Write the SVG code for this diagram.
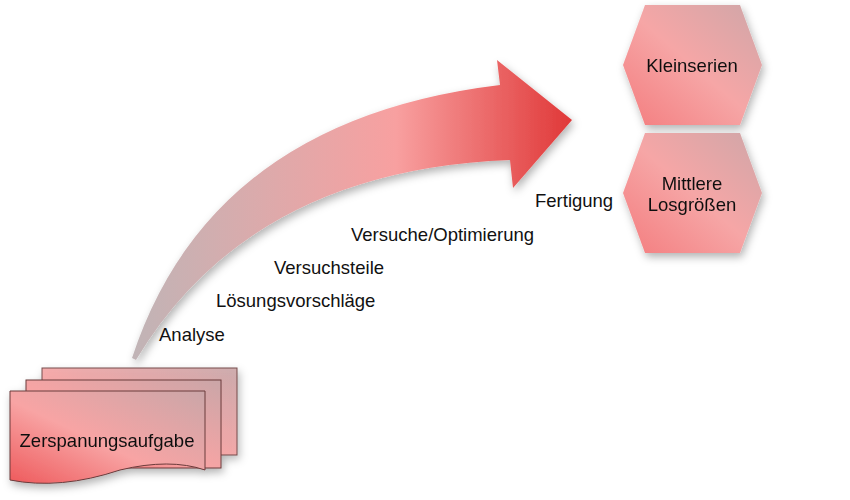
<svg xmlns="http://www.w3.org/2000/svg" width="850" height="500" viewBox="0 0 850 500">
<style>
text{font-family:"Liberation Sans",Arial,sans-serif;font-size:18.5px;fill:#111}
.doc{stroke:#6a3a3a;stroke-width:1}
</style>
<defs>
<linearGradient id="g" x1="0" y1="1" x2="1" y2="0">
<stop offset="0" stop-color="#ee5a5c"/><stop offset="0.45" stop-color="#f8a4a4"/><stop offset="1" stop-color="#caa6a8"/>
</linearGradient>
<linearGradient id="hg" x1="0" y1="1" x2="1" y2="0">
<stop offset="0" stop-color="#f47c7e"/><stop offset="0.5" stop-color="#f6a6a6"/><stop offset="1" stop-color="#cfa6a8"/>
</linearGradient>
<linearGradient id="ag" x1="0" y1="0" x2="1" y2="0">
<stop offset="0" stop-color="#c0b4b6"/><stop offset="0.6" stop-color="#f8a0a0"/><stop offset="1" stop-color="#e03838"/>
</linearGradient>
<filter id="sh" x="-20%" y="-20%" width="140%" height="140%"><feDropShadow dx="2" dy="4" stdDeviation="4" flood-color="#000" flood-opacity="0.3"/></filter>
</defs>
<g id="connectors">
<path d="M132,358 Q210,120 500,85 L497,60 L572,120 L513,188 L510,160 Q250,170 136,360 Z" fill="url(#ag)" filter="url(#sh)"/>
</g>
<g id="doc" filter="url(#sh)">
<rect class="doc" x="42" y="368" width="195" height="87" fill="url(#g)" opacity="0.9"/>
<rect class="doc" x="26" y="380" width="195" height="88" fill="url(#g)"/>
<path class="doc" d="M10,391 H205 V470 Q170,458 120,470 Q60,490 10,480 Z" fill="url(#g)"/>
<text x="107" y="447" text-anchor="middle">Zerspanungsaufgabe</text>
</g>
<g id="kleinserien" filter="url(#sh)">
<polygon points="645,5 740,5 762,65 740,125 645,125 623,65" fill="url(#hg)"/>
<text x="692" y="72" text-anchor="middle">Kleinserien</text>
</g>
<g id="mittlere" filter="url(#sh)">
<polygon points="645,133 740,133 762,193 740,253 645,253 623,193" fill="url(#hg)"/>
<text x="692" y="190" text-anchor="middle">Mittlere</text>
<text x="692" y="211" text-anchor="middle">Losgrößen</text>
</g>
<g id="labels">
<text x="159" y="341">Analyse</text>
<text x="216" y="307">Lösungsvorschläge</text>
<text x="274" y="274">Versuchsteile</text>
<text x="351" y="241">Versuche/Optimierung</text>
<text x="535" y="207">Fertigung</text>
</g>
</svg>
